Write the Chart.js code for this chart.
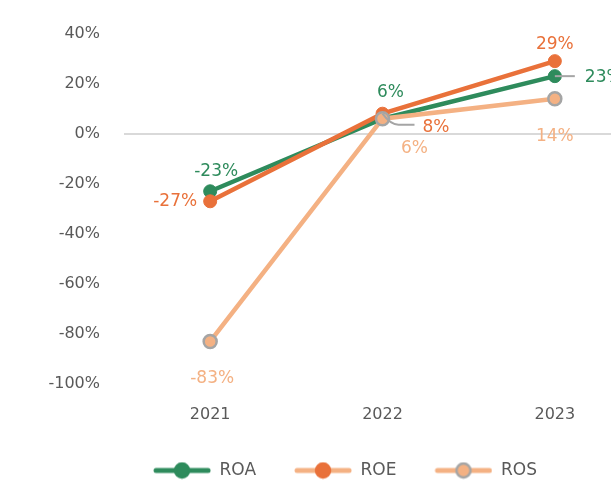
<!DOCTYPE html>
<html>
<head>
<meta charset="utf-8">
<script src="https://cdn.jsdelivr.net/npm/chart.js@4"></script>
<style>
  html, body { margin: 0; padding: 0; background: #fff; overflow: hidden; }
  #wrap { width: 611px; height: 480px; overflow: hidden; position: relative; }
  #box { width: 688px; height: 480px; position: absolute; left: 0; top: 0; }
</style>
</head>
<body>
<div id="wrap"><div id="box"><canvas id="c" width="688" height="480"></canvas></div></div>
<script>
const categories = ['2021', '2022', '2023'];
const roa = [-23, 6, 23];
const roe = [-27, 8, 29];
const ros = [-83, 6, 14];
const yTicks = [40, 20, 0, -20, -40, -60, -80, -100];

const FONT = '"DejaVu Sans", sans-serif';
const GREEN = '#2E8B5C';
const ORANGE = '#E9713A';
const LIGHT = '#F4B183';
const GRAYB = '#A5A5A5';
const TEXT = '#595959';

// label placement per dataset/point: [dx, dy, align, leader]
const labelPlacement = {
  ROA: [[6, -20, 'center'], [8, -26, 'center'], [30, 1, 'left', 'h']],
  ROE: [[-35, 0, 'center'], [67, 14, 'right', 'curve'], [0, -17, 'center']],
  ROS: [[2, 37, 'center'], [32, 30, 'center'], [0, 38, 'center']]
};

const ICON_MARGIN = 34;
function legendIcon(lineColor, fill, border) {
  const cv = document.createElement('canvas');
  cv.width = 58 + ICON_MARGIN; cv.height = 18;
  const g = cv.getContext('2d');
  const o = ICON_MARGIN;
  g.strokeStyle = lineColor; g.lineWidth = 5; g.lineCap = 'round';
  g.beginPath(); g.moveTo(o + 3, 9); g.lineTo(o + 55, 9); g.stroke();
  g.beginPath(); g.arc(o + 29, 9, 7, 0, Math.PI * 2);
  g.fillStyle = fill; g.fill();
  g.lineWidth = 2.5; g.strokeStyle = border; g.stroke();
  return cv;
}
const icons = [
  legendIcon(GREEN, GREEN, GREEN),
  legendIcon(LIGHT, ORANGE, ORANGE),
  legendIcon(LIGHT, LIGHT, GRAYB)
];

const dataLabels = {
  id: 'dataLabels',
  afterDatasetsDraw(chart) {
    const ctx = chart.ctx;
    ctx.save();
    ctx.font = '17px ' + FONT;
    ctx.textBaseline = 'middle';
    chart.data.datasets.forEach((ds, di) => {
      const meta = chart.getDatasetMeta(di);
      const place = labelPlacement[ds.label];
      meta.data.forEach((pt, i) => {
        const p = place[i];
        const tx = pt.x + p[0], ty = pt.y + p[1];
        if (p[3] === 'h') {
          ctx.strokeStyle = GRAYB; ctx.lineWidth = 2;
          ctx.beginPath(); ctx.moveTo(pt.x, pt.y); ctx.lineTo(tx - 10, pt.y); ctx.stroke();
        } else if (p[3] === 'curve') {
          ctx.strokeStyle = GRAYB; ctx.lineWidth = 2;
          ctx.beginPath(); ctx.moveTo(pt.x, pt.y);
          ctx.quadraticCurveTo(pt.x + 8, ty - 3, pt.x + 16, ty - 3);
          ctx.lineTo(pt.x + 32, ty - 3); ctx.stroke();
        }
        ctx.fillStyle = ds.labelColor;
        ctx.textAlign = p[2] === 'right' ? 'right' : (p[2] === 'left' ? 'left' : 'center');
        ctx.fillText(ds.data[i] + '%', tx, ty);
      });
    });
    ctx.restore();
  }
};

new Chart(document.getElementById('c'), {
  type: 'line',
  data: {
    labels: categories,
    datasets: [
      { label: 'ROA', data: roa, borderColor: GREEN, backgroundColor: GREEN, pointBackgroundColor: GREEN,
        pointBorderColor: GREEN, borderWidth: 4.5, pointRadius: 6.5, pointBorderWidth: 1, order: 2, labelColor: GREEN },
      { label: 'ROE', data: roe, borderColor: ORANGE, backgroundColor: ORANGE, pointBackgroundColor: ORANGE,
        pointBorderColor: ORANGE, borderWidth: 4.5, pointRadius: 6.5, pointBorderWidth: 1, order: 1, labelColor: ORANGE },
      { label: 'ROS', data: ros, borderColor: LIGHT, backgroundColor: LIGHT, pointBackgroundColor: LIGHT,
        pointBorderColor: GRAYB, borderWidth: 4.5, pointRadius: 6.5, pointBorderWidth: 2.5, order: 0, labelColor: LIGHT }
    ]
  },
  options: {
    responsive: false,
    animation: false,
    layout: { padding: { top: 33, right: 47, bottom: -9, left: 15 } },
    plugins: {
      tooltip: { enabled: false },
      legend: {
        position: 'bottom',
        labels: {
          usePointStyle: true,
          pointStyleWidth: 58 + ICON_MARGIN,
          padding: 4,
          color: TEXT,
          font: { family: FONT, size: 17 },
          generateLabels(chart) {
            return chart.data.datasets.map((ds, i) => ({
              text: ds.label, pointStyle: icons[i], datasetIndex: i,
              fillStyle: ds.borderColor, strokeStyle: ds.borderColor, lineWidth: 0, hidden: false,
              fontColor: TEXT
            }));
          }
        }
      }
    },
    scales: {
      x: {
        offset: true,
        afterFit(s) { s.height = 74; },
        grid: { display: false, offset: true },
        border: { display: false },
        ticks: { color: TEXT, font: { family: FONT, size: 16 }, padding: 13 }
      },
      y: {
        min: -100, max: 40,
        afterFit(s) { s.width = 109; },
        afterBuildTicks(s) { s.ticks = yTicks.map(v => ({ value: v })); },
        border: { display: false },
        grid: {
          drawTicks: false,
          color: c => (c.tick && c.tick.value === 0) ? '#D9D9D9' : 'rgba(0,0,0,0)',
          lineWidth: 2
        },
        ticks: { color: TEXT, font: { family: FONT, size: 16 }, padding: 24, callback: v => v + '%' }
      }
    }
  },
  plugins: [dataLabels]
});
</script>
</body>
</html>
